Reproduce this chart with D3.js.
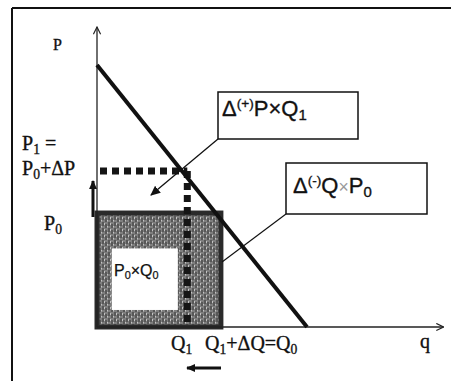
<!DOCTYPE html>
<html><head><meta charset="utf-8">
<script src="https://cdn.jsdelivr.net/npm/d3@7"></script>
<style>html,body{margin:0;padding:0;background:#fff;}svg{display:block;}</style>
</head><body>
<svg id="chart" width="451" height="381"></svg>
<script>
// ---- data (economic units) ----
const demandP = [10, 0];          // price at q=0 and q=qMax
const demandQ = [0, 10];
const P0 = 4.35, P1 = 5.95;
const Q0 = 5.9, Q1 = 4.3;
const innerQ = [0.7, 3.85];
const innerP = [0.65, 3.0];
const axisMax = {q: 16.5, p: 11.45};

const svg = d3.select("#chart");
const x = d3.scaleLinear().domain([0, 10]).range([97, 307]);
const y = d3.scaleLinear().domain([0, 10]).range([327, 65]);

const defs = svg.append("defs");
// texture pattern
const pat = defs.append("pattern").attr("id","tex").attr("patternUnits","userSpaceOnUse").attr("width",6).attr("height",6);
pat.append("rect").attr("width",6).attr("height",6).attr("fill","#7e7e7e");
pat.append("path").attr("d","M1,0 L1,4 M4,2 L4,6").attr("stroke","#3e3e3e").attr("stroke-width",1.2);
pat.append("path").attr("d","M2.5,1 L2.5,3 M5.5,4 L5.5,5.5").attr("stroke","#c4c4c4").attr("stroke-width",1);

function marker(id, w, h, filled){
  const m = defs.append("marker").attr("id",id).attr("viewBox","0 0 10 10").attr("refX",9).attr("refY",5)
    .attr("markerWidth",w).attr("markerHeight",h).attr("markerUnits","userSpaceOnUse").attr("orient","auto").attr("preserveAspectRatio","none");
  if(filled) m.append("path").attr("d","M0,0 L10,5 L0,10 Z").attr("fill","#111");
  else m.append("path").attr("d","M1,1 L9,5 L1,9").attr("fill","none").attr("stroke","#222").attr("stroke-width",1.3);
}
marker("open",9,9,false);
marker("fill",10,9,true);
marker("big",9,8,true);

// frame
svg.append("line").attr("x1",12).attr("y1",8).attr("x2",451).attr("y2",8).attr("stroke","#111").attr("stroke-width",2);
svg.append("line").attr("x1",12).attr("y1",8).attr("x2",12).attr("y2",381).attr("stroke","#111").attr("stroke-width",2);

// textured area
svg.append("rect").attr("x",x(0)).attr("y",y(P0)).attr("width",x(Q0)-x(0)).attr("height",y(0)-y(P0))
  .attr("fill","url(#tex)").attr("stroke","#2a2a2a").attr("stroke-width",5);
svg.append("rect").attr("x",x(innerQ[0])).attr("y",y(innerP[1])).attr("width",x(innerQ[1])-x(innerQ[0])).attr("height",y(innerP[0])-y(innerP[1]))
  .attr("fill","#fff");

// axes
svg.append("line").attr("x1",x(0)).attr("y1",y(0)).attr("x2",x(axisMax.q)).attr("y2",y(0))
  .attr("stroke","#222").attr("stroke-width",1.3).attr("marker-end","url(#open)");
svg.append("line").attr("x1",x(0)).attr("y1",y(0)).attr("x2",x(0)).attr("y2",y(axisMax.p))
  .attr("stroke","#222").attr("stroke-width",1.3).attr("marker-end","url(#open)");

// dotted lines
svg.append("line").attr("x1",x(0)+3).attr("y1",y(P1)).attr("x2",x(Q1)).attr("y2",y(P1))
  .attr("stroke","#151515").attr("stroke-width",7).attr("stroke-dasharray","7,5");
svg.append("line").attr("x1",x(Q1)).attr("y1",y(P1)).attr("x2",x(Q1)).attr("y2",y(0))
  .attr("stroke","#151515").attr("stroke-width",7).attr("stroke-dasharray","7,5");

// demand line
svg.append("line").attr("x1",x(demandQ[0])).attr("y1",y(demandP[0])).attr("x2",x(demandQ[1])).attr("y2",y(demandP[1]))
  .attr("stroke","#111").attr("stroke-width",4);

// arrows
svg.append("line").attr("x1",93).attr("y1",217).attr("x2",93).attr("y2",181)
  .attr("stroke","#111").attr("stroke-width",3).attr("marker-end","url(#big)");
svg.append("line").attr("x1",221).attr("y1",368).attr("x2",187).attr("y2",368)
  .attr("stroke","#111").attr("stroke-width",3).attr("marker-end","url(#big)");

// boxes + leaders
svg.append("rect").attr("x",218).attr("y",92).attr("width",140).attr("height",47).attr("fill","#fff").attr("stroke","#111").attr("stroke-width",1.5);
svg.append("rect").attr("x",286).attr("y",163).attr("width",141).attr("height",51).attr("fill","#fff").attr("stroke","#111").attr("stroke-width",1.5);
svg.append("line").attr("x1",218).attr("y1",139).attr("x2",151).attr("y2",195).attr("stroke","#111").attr("stroke-width",1.3).attr("marker-end","url(#fill)");
svg.append("line").attr("x1",286).attr("y1",214).attr("x2",222).attr("y2",262).attr("stroke","#111").attr("stroke-width",1.2);

// text helper
const serif = "'Liberation Serif','Times New Roman',serif";
const sans = "'Liberation Sans',Arial,sans-serif";
function label(xp, yp, parts, font, size, weight){
  const t = svg.append("text").attr("x",xp).attr("y",yp).attr("font-family",font).attr("font-size",size)
    .attr("fill","#111").attr("stroke","#111").attr("stroke-width",weight||0.35);
  parts.forEach(p=>{
    const ts = t.append("tspan").text(p.t);
    if(p.sub){ ts.attr("font-size",size*0.68).attr("baseline-shift","-25%"); }
    if(p.sup){ ts.attr("font-size",size*0.62).attr("baseline-shift","60%"); }
    if(p.light){ ts.attr("fill","#999").attr("stroke","none").attr("font-size",size*0.8); }
  });
  return t;
}
label(53,50,[{t:"P"}],serif,16);
label(22,150,[{t:"P"},{t:"1",sub:true},{t:" ="}],serif,20);
label(22,175,[{t:"P"},{t:"0",sub:true},{t:"+ΔP"}],serif,20);
label(44,230,[{t:"P"},{t:"0",sub:true}],serif,20);
label(171,350,[{t:"Q"},{t:"1",sub:true}],serif,20);
label(205,350,[{t:"Q"},{t:"1",sub:true},{t:"+ΔQ=Q"},{t:"0",sub:true}],serif,20);
label(420,348,[{t:"q"}],serif,20);
label(222,116,[{t:"Δ"},{t:"(+)",sup:true},{t:"P×Q"},{t:"1",sub:true}],sans,22);
label(293,193,[{t:"Δ"},{t:"(-)",sup:true},{t:"Q"},{t:"×",light:true},{t:"P"},{t:"0",sub:true}],sans,22);
label(114,276,[{t:"P"},{t:"0",sub:true},{t:"×Q"},{t:"0",sub:true}],sans,16,0.25);
</script>
</body></html>
